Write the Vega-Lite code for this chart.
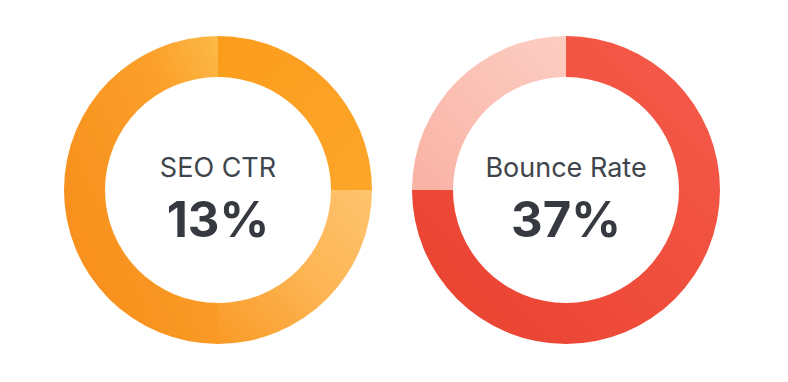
{
  "$schema": "https://vega.github.io/schema/vega-lite/v6.json",
  "background": "#ffffff",
  "padding": {"left": 48, "top": 20, "right": 0, "bottom": 0},
  "spacing": 8,
  "config": {"view": {"stroke": null}},
  "datasets": {
    "seo": [
      {"segment": "a", "value": 25, "order": 1},
      {"segment": "b", "value": 25, "order": 2},
      {"segment": "c", "value": 50, "order": 3}
    ],
    "bounce": [
      {"segment": "main", "value": 75, "order": 1},
      {"segment": "rest", "value": 25, "order": 2}
    ],
    "labels": [
      {"chart": "seo", "label": "SEO CTR", "pct": "13%"},
      {"chart": "bounce", "label": "Bounce Rate", "pct": "37%"}
    ]
  },
  "hconcat": [
    {
      "width": 340,
      "height": 340,
      "data": {"name": "seo"},
      "transform": [
        {"stack": "value", "groupby": [], "sort": [{"field": "order"}], "as": ["v0", "v1"]}
      ],
      "encoding": {
        "theta": {"field": "v0", "type": "quantitative", "scale": {"domain": [0, 100]}},
        "theta2": {"field": "v1"}
      },
      "layer": [
        {
          "transform": [{"filter": "datum.segment == 'c'"}],
          "mark": {"type": "arc", "outerRadius": 154, "innerRadius": 113,
            "fill": {"gradient": "linear", "x1": 1, "y1": 0, "x2": 0.2, "y2": 0.7,
              "stops": [{"offset": 0, "color": "#FDBA48"}, {"offset": 0.35, "color": "#FBA02A"}, {"offset": 1, "color": "#F8911E"}]}}
        },
        {
          "transform": [{"filter": "datum.segment == 'a'"}],
          "mark": {"type": "arc", "outerRadius": 154, "innerRadius": 113,
            "fill": {"gradient": "linear", "x1": 0, "y1": 0, "x2": 1, "y2": 1,
              "stops": [{"offset": 0, "color": "#FC9C1C"}, {"offset": 1, "color": "#FCA62A"}]}}
        },
        {
          "transform": [{"filter": "datum.segment == 'b'"}],
          "mark": {"type": "arc", "outerRadius": 154, "innerRadius": 113,
            "fill": {"gradient": "linear", "x1": 1, "y1": 0, "x2": 0, "y2": 1,
              "stops": [{"offset": 0, "color": "#FEC46E"}, {"offset": 0.5, "color": "#FDB453"}, {"offset": 1, "color": "#F99A26"}]}}
        },
        {
          "data": {"name": "labels"},
          "transform": [{"filter": "datum.chart == 'seo'"}],
          "mark": {"type": "text", "font": "Inter", "fontSize": 27, "color": "#40454c", "baseline": "alphabetic", "dy": -13},
          "encoding": {"text": {"field": "label"}, "theta": null, "theta2": null}
        },
        {
          "data": {"name": "labels"},
          "transform": [{"filter": "datum.chart == 'seo'"}],
          "mark": {"type": "text", "font": "Inter", "fontSize": 49, "fontWeight": "bold", "color": "#363a40", "baseline": "alphabetic", "dy": 47},
          "encoding": {"text": {"field": "pct"}, "theta": null, "theta2": null}
        }
      ]
    },
    {
      "width": 340,
      "height": 340,
      "data": {"name": "bounce"},
      "transform": [
        {"stack": "value", "groupby": [], "sort": [{"field": "order"}], "as": ["v0", "v1"]}
      ],
      "encoding": {
        "theta": {"field": "v0", "type": "quantitative", "scale": {"domain": [0, 100]}},
        "theta2": {"field": "v1"}
      },
      "layer": [
        {
          "transform": [{"filter": "datum.segment == 'main'"}],
          "mark": {"type": "arc", "outerRadius": 154, "innerRadius": 113,
            "fill": {"gradient": "linear", "x1": 1, "y1": 0, "x2": 0, "y2": 1,
              "stops": [{"offset": 0, "color": "#F65C4C"}, {"offset": 0.5, "color": "#F04E3C"}, {"offset": 1, "color": "#E8402F"}]}}
        },
        {
          "transform": [{"filter": "datum.segment == 'rest'"}],
          "mark": {"type": "arc", "outerRadius": 154, "innerRadius": 113,
            "fill": {"gradient": "linear", "x1": 1, "y1": 0, "x2": 0, "y2": 1,
              "stops": [{"offset": 0, "color": "#FDCEC3"}, {"offset": 1, "color": "#F9B2A4"}]}}
        },
        {
          "data": {"name": "labels"},
          "transform": [{"filter": "datum.chart == 'bounce'"}],
          "mark": {"type": "text", "font": "Inter", "fontSize": 27, "color": "#40454c", "baseline": "alphabetic", "dy": -13},
          "encoding": {"text": {"field": "label"}, "theta": null, "theta2": null}
        },
        {
          "data": {"name": "labels"},
          "transform": [{"filter": "datum.chart == 'bounce'"}],
          "mark": {"type": "text", "font": "Inter", "fontSize": 49, "fontWeight": "bold", "color": "#363a40", "baseline": "alphabetic", "dy": 47},
          "encoding": {"text": {"field": "pct"}, "theta": null, "theta2": null}
        }
      ]
    }
  ]
}
